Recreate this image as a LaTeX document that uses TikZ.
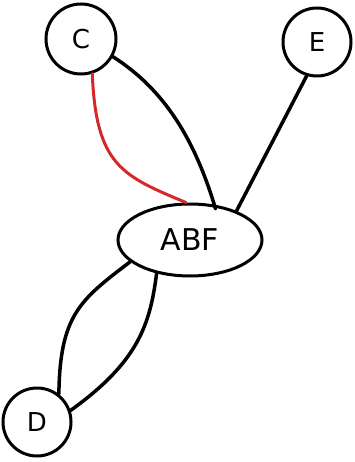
\documentclass[tikz,border=0pt]{standalone}
\usepackage{fontspec}
\setmainfont{DejaVu Sans}
\usetikzlibrary{shapes.geometric}
\definecolor{sketchred}{RGB}{214,40,40}
\begin{document}
\begin{tikzpicture}[x=1pt,y=-1pt,
  vtx/.style={draw, line width=3pt, circle, minimum size=70pt, inner sep=0pt, font=\fontsize{26}{26}\selectfont},
  ovl/.style={draw, line width=3pt, ellipse, minimum width=144pt, minimum height=72pt, inner sep=0pt, font=\fontsize{30}{30}\selectfont},
  edge/.style={line width=3.5pt, line cap=round}]
\useasboundingbox (0,0) rectangle (354,462);
\node[vtx] (C) at (81,39) {C};
\node[vtx, minimum size=68pt] (E) at (317,42) {E};
\node[ovl] (ABF) at (190,240) {ABF};
\node[vtx, minimum size=68pt] (D) at (37,422) {D};
\draw[edge, sketchred, line width=3pt] (C.-72) .. controls (96,165) and (122,176) .. (ABF.96);
\draw[edge] (C.-29) .. controls (165,90) and (195,140) .. ([yshift=-4pt]ABF.54);
\draw[edge] (E.-107) -- (ABF.32);
\draw[edge] (ABF.200) .. controls (80,300) and (60,315) .. (D.52);
\draw[edge] (ABF.225) .. controls (150,325) and (138,362) .. (D.19);
\end{tikzpicture}
\end{document}
